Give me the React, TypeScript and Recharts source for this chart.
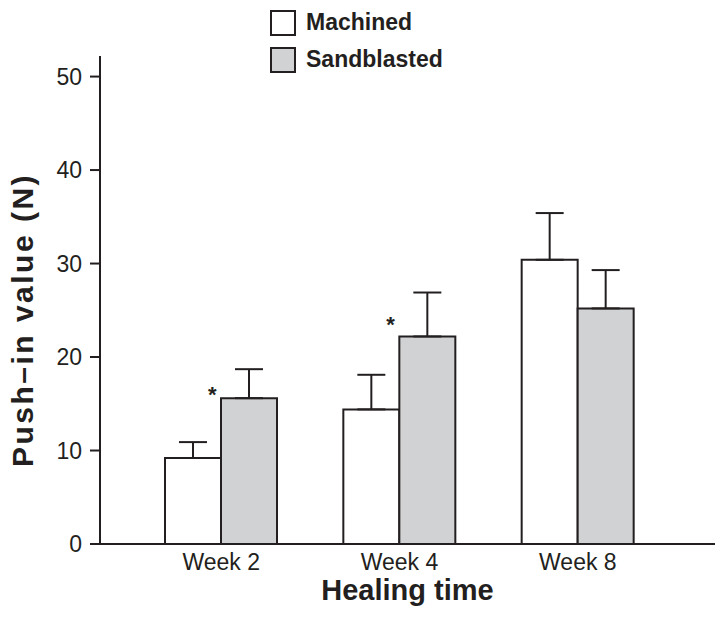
import { BarChart, Bar, XAxis, YAxis, ErrorBar, Legend, ReferenceDot, Label } from "recharts";

const FONT = '"Liberation Sans", Arial, Helvetica, sans-serif';
const INK = "#231f20";

const categories = ["Week 2", "Week 4", "Week 8"];
const machined = [9.2, 14.4, 30.4];
const machinedErr = [1.7, 3.7, 5.0];
const sandblasted = [15.6, 22.2, 25.2];
const sandblastedErr = [3.1, 4.7, 4.1];
// significance marks (*) drawn above each pair
const stars: (number | null)[] = [17.3, 24.8, null];
const yTicks = [0, 10, 20, 30, 40, 50];

const data = categories.map((week, i) => ({
  week,
  machined: machined[i],
  mErr: [0, machinedErr[i]],
  sandblasted: sandblasted[i],
  sErr: [0, sandblastedErr[i]],
}));

function LegendBox({ payload }: any) {
  return (
    <div style={{ fontFamily: FONT }}>
      {(payload || []).map((p: any) => (
        <div key={p.value} style={{ display: "flex", alignItems: "center", height: 37 }}>
          <div
            style={{
              width: 22,
              height: 22,
              background: p.payload?.fill ?? p.color,
              border: `2px solid ${INK}`,
              marginRight: 10,
            }}
          />
          <span style={{ fontSize: 23, fontWeight: 700, color: INK }}>{p.value}</span>
        </div>
      ))}
    </div>
  );
}

export default function App() {
  return (
    <div style={{ position: "absolute", left: 0, top: 0, background: "#fff" }}>
      <BarChart
        width={726}
        height={624}
        data={data}
        margin={{ top: 56, right: 11, bottom: 50, left: 40 }}
        barCategoryGap={33}
        barGap={0}
      >
        <XAxis
          dataKey="week"
          padding={{ left: 32, right: 48 }}
          tickLine={false}
          tickMargin={4}
          height={30}
          fontSize={23}
          axisLine={{ stroke: INK, strokeWidth: 2 }}
          tick={{ fill: INK, fontSize: 23, fontFamily: FONT }}
        >
          <Label
            content={({ viewBox }: any) => (
              <text
                x={viewBox.x + viewBox.width / 2}
                y={600}
                textAnchor="middle"
                fontFamily={FONT}
                fontWeight={700}
                fontSize={29}
                fill={INK}
              >
                Healing time
              </text>
            )}
          />
        </XAxis>
        <YAxis
          width={60}
          domain={[0, 52.2]}
          ticks={yTicks}
          tickSize={10}
          tickMargin={8}
          interval={0}
          allowDataOverflow
          fontSize={23}
          axisLine={{ stroke: INK, strokeWidth: 2 }}
          tickLine={{ stroke: INK, strokeWidth: 2 }}
          tick={{ fill: INK, fontSize: 23, fontFamily: FONT }}
        >
          <Label
            content={() => (
              <text
                x={33}
                y={320}
                transform="rotate(-90 33 320)"
                textAnchor="middle"
                fontFamily={FONT}
                fontWeight={700}
                fontSize={30}
                letterSpacing={2.5}
                fill={INK}
              >
                Push–in value (N)
              </text>
            )}
          />
        </YAxis>
        <Legend
          layout="horizontal"
          verticalAlign="middle"
          align="center"
          wrapperStyle={{ top: 4, left: 270, width: "auto", height: "auto" }}
          content={<LegendBox />}
        />
        <Bar
          dataKey="machined"
          name="Machined"
          fill="#ffffff"
          stroke={INK}
          strokeWidth={2}
          isAnimationActive={false}
        >
          <ErrorBar dataKey="mErr" direction="y" width={14} stroke={INK} strokeWidth={2} />
        </Bar>
        <Bar
          dataKey="sandblasted"
          name="Sandblasted"
          fill="#d1d2d4"
          stroke={INK}
          strokeWidth={2}
          isAnimationActive={false}
        >
          <ErrorBar dataKey="sErr" direction="y" width={14} stroke={INK} strokeWidth={2} />
        </Bar>
        {categories.map((c, i) =>
          stars[i] == null ? null : (
            <ReferenceDot
              key={c}
              x={c}
              y={stars[i] as number}
              shape={(p: any) => (
                <text
                  x={p.cx - 9}
                  y={p.cy + 20}
                  textAnchor="middle"
                  fontFamily={FONT}
                  fontWeight={700}
                  fontSize={22}
                  fill={INK}
                >
                  *
                </text>
              )}
            />
          )
        )}
      </BarChart>
    </div>
  );
}
